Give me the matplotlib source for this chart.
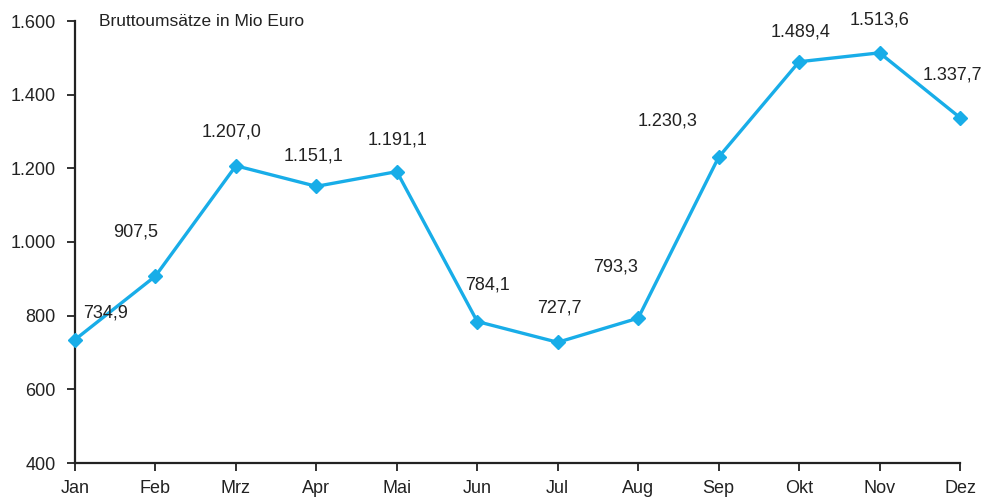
import matplotlib
matplotlib.use('Agg')
import matplotlib.pyplot as plt
from matplotlib import font_manager

months = ['Jan', 'Feb', 'Mrz', 'Apr', 'Mai', 'Jun', 'Jul', 'Aug', 'Sep', 'Okt', 'Nov', 'Dez']
umsatz = [734.9, 907.5, 1207.0, 1151.1, 1191.1, 784.1, 727.7, 793.3, 1230.3, 1489.4, 1513.6, 1337.7]
yticks = [400, 600, 800, 1000, 1200, 1400, 1600]
ytick_labels = ['400', '600', '800', '1.000', '1.200', '1.400', '1.600']
# label offsets in pixels (dx, dy)
offsets = [(31, 27), (-20, 44), (-4, 34), (-3, 30), (1, 32), (10, 37),
           (2, 34), (-23, 51), (-51, 36), (1, 30), (0, 33), (-8, 43)]

names = [f.name for f in font_manager.fontManager.ttflist]
fam = 'Liberation Sans Narrow' if 'Liberation Sans Narrow' in names else 'Liberation Sans'
plt.rcParams['font.family'] = [fam, 'DejaVu Sans']

def fmt(v):
    s = f'{v:,.1f}'
    return s.replace(',', 'X').replace('.', ',').replace('X', '.')

fig = plt.figure(figsize=(9.89, 5.01), dpi=100)
ax = fig.add_axes([75 / 989, 38 / 501, 885 / 989, 442 / 501])
x = list(range(len(months)))
ax.plot(x, umsatz, color='#18ADE8', lw=2.4, marker='D', ms=7, clip_on=False, zorder=3)

for i, v in enumerate(umsatz):
    dx, dy = offsets[i]
    ax.annotate(fmt(v), (i, v), xytext=(dx * 0.72, dy * 0.72), textcoords='offset points',
                ha='center', va='center', fontsize=13, color='#222222')

ax.set_xlim(0, 11)
ax.set_ylim(400, 1600)
ax.set_xticks(x)
ax.set_xticklabels(months, fontsize=13)
ax.set_yticks(yticks)
ax.set_yticklabels(ytick_labels, fontsize=13)
for s in ['top', 'right']:
    ax.spines[s].set_visible(False)
for s in ['left', 'bottom']:
    ax.spines[s].set_linewidth(1.6)
    ax.spines[s].set_color('#222222')
ax.tick_params(length=6, width=1.3, color='#222222', labelcolor='#222222')
ax.tick_params(axis='x', pad=6)
ax.tick_params(axis='y', pad=8)
ax.text(24 / 885, 1.0, 'Bruttoumsätze in Mio Euro', transform=ax.transAxes,
        fontsize=12.5, va='center', ha='left', color='#222222')

fig.savefig('out.png', dpi=100)
